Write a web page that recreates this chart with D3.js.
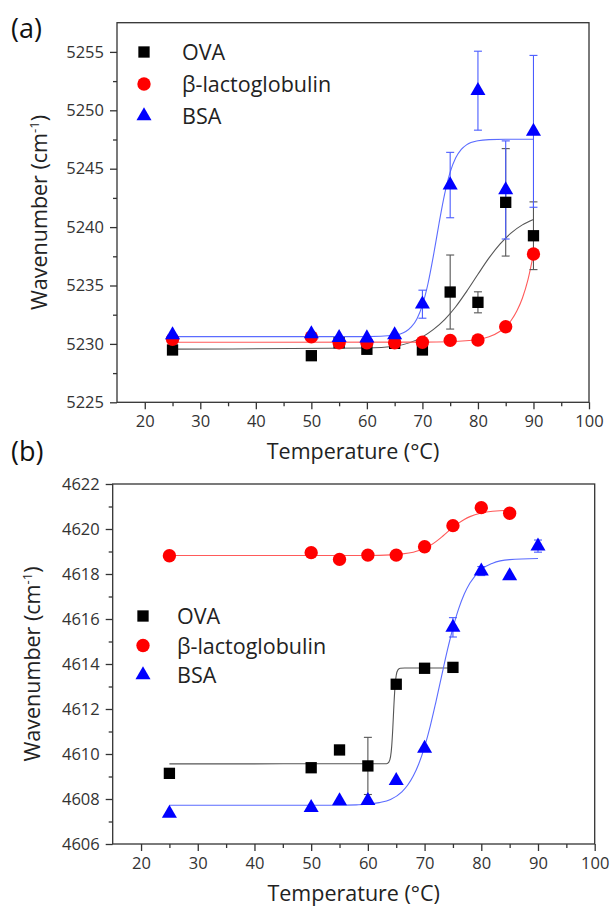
<!DOCTYPE html>
<html>
<head>
    <meta charset="UTF-8">
    <title>Wavenumber vs Temperature</title>
    <script src="https://d3js.org/d3.v7.min.js"></script>

    <style type="text/css">
      body{
        margin: 0;
        background-color: white;
      }
      svg{
        display: block;
        font-family: "Open Sans", sans-serif;
      }
    </style>
</head>
<body>
    <svg id="chart"></svg>

    <script>
        // measured temperatures (°C)
        const temps = [25, 50, 55, 60, 65, 70, 75, 80, 85, 90];

        // panel (a)
        const ovaA = [5229.48, 5228.99, 5230.1, 5229.54, 5230.05, 5229.48, 5234.44, 5233.56, 5242.12, 5239.26];
        const ovaAErr = [0, 0, 0, 0, 0, 0, 3.17, 0.9, 4.6, 2.9];
        const blgA = [5230.39, 5230.6, 5230.1, 5230.1, 5230.1, 5230.14, 5230.3, 5230.33, 5231.47, 5237.7];
        const blgAErr = [0, 0, 0, 0, 0, 0, 0, 0, 0, 0];
        const bsaA = [5230.76, 5230.85, 5230.53, 5230.5, 5230.76, 5233.4, 5243.6, 5251.68, 5243.18, 5248.2];
        const bsaAErr = [0, 0, 0, 0, 0, 1.2, 2.8, 3.38, 4.2, 6.5];

        // fitted curves of panel (a)
        const ovaAFitT = [25, 60, 65, 70, 72, 74, 76, 78, 80, 82, 84, 86, 88, 90];
        const ovaAFit = [5229.55, 5229.65, 5229.8, 5230.6, 5231.24, 5232.08, 5233.18, 5234.52, 5235.96, 5237.36, 5238.56, 5239.51, 5240.19, 5240.66];
        const blgAFitT = [25, 70, 75, 80, 82, 84, 85, 86, 87, 88, 89, 90];
        const blgAFit = [5230.14, 5230.15, 5230.19, 5230.38, 5230.61, 5231.08, 5231.47, 5232.02, 5232.81, 5233.91, 5235.48, 5237.7];
        const bsaAFitT = [25, 60, 65, 66, 67, 68, 69, 70, 71, 72, 73, 74, 75, 76, 77, 78, 80, 82, 85, 90];
        const bsaAFit = [5230.62, 5230.62, 5230.74, 5230.85, 5231.06, 5231.45, 5232.14, 5233.32, 5235.15, 5237.6, 5240.33, 5242.82, 5244.7, 5245.93, 5246.65, 5247.06, 5247.39, 5247.49, 5247.52, 5247.52];

        // panel (b)
        const ovaBT = [25, 50, 55, 60, 65, 70, 75];
        const ovaB = [4609.14, 4609.39, 4610.18, 4609.47, 4613.1, 4613.81, 4613.85];
        const ovaBErr = [0, 0, 0, 1.27, 0, 0, 0];
        const blgBT = [25, 50, 55, 60, 65, 70, 75, 80, 85];
        const blgB = [4618.81, 4618.95, 4618.65, 4618.84, 4618.84, 4619.21, 4620.15, 4620.95, 4620.7];
        const blgBErr = [0, 0, 0, 0, 0, 0, 0, 0, 0];
        const bsaB = [4607.36, 4607.61, 4607.91, 4607.93, 4608.81, 4610.25, 4615.63, 4618.13, 4617.91, 4619.24];
        const bsaBErr = [0, 0, 0, 0, 0, 0, 0.43, 0.2, 0, 0.27];

        // fitted curves of panel (b)
        const ovaBFitT = [25, 63.3, 63.7, 64.0, 64.2, 64.4, 64.6, 64.8, 65.0, 65.3, 65.7, 66.5, 75];
        const ovaBFit = [4609.56, 4609.57, 4609.64, 4609.88, 4610.34, 4611.17, 4612.21, 4613.04, 4613.5, 4613.74, 4613.81, 4613.82, 4613.82];
        const blgBFitT = [25, 60, 64, 66, 68, 70, 71, 72, 73, 74, 75, 76, 77, 78, 80, 82, 85];
        const blgBFit = [4618.82, 4618.82, 4618.85, 4618.89, 4618.97, 4619.14, 4619.27, 4619.44, 4619.64, 4619.86, 4620.07, 4620.26, 4620.42, 4620.55, 4620.71, 4620.79, 4620.83];
        const bsaBFitT = [25, 55, 58, 60, 62, 64, 66, 67, 68, 69, 70, 71, 72, 73, 74, 75, 76, 77, 78, 80, 82, 85, 90];
        const bsaBFit = [4607.72, 4607.72, 4607.74, 4607.77, 4607.84, 4607.98, 4608.32, 4608.61, 4609.02, 4609.58, 4610.32, 4611.24, 4612.32, 4613.46, 4614.59, 4615.6, 4616.45, 4617.11, 4617.6, 4618.2, 4618.48, 4618.64, 4618.69];

        // ticks
        const xTicks = [20, 30, 40, 50, 60, 70, 80, 90, 100];
        const xMinor = [25, 35, 45, 55, 65, 75, 85, 95];
        const yTicksA = [5225, 5230, 5235, 5240, 5245, 5250, 5255];
        const yMinorA = [5227.5, 5232.5, 5237.5, 5242.5, 5247.5, 5252.5];
        const yTicksB = [4606, 4608, 4610, 4612, 4614, 4616, 4618, 4620, 4622];
        const yMinorB = [4607, 4609, 4611, 4613, 4615, 4617, 4619, 4621];

        const seriesNames = ["OVA", "\u03B2-lactoglobulin", "BSA"];

        const width = 612;
        const height = 909;
        const axisColor = "#333";

        const svg = d3.select("#chart")
          .attr("width", width)
          .attr("height", height);

        const symbols = [d3.symbolSquare, d3.symbolCircle, d3.symbolTriangle];
        const symSizes = [128, 140, 98];
        const fills = ["#000000", "#ff0000", "#0000ff"];
        const lineColors = ["#555555", "#ff5a5a", "#5b6cff"];
        const errColors = ["#555555", "#ff5a5a", "#4a5cff"];

        function drawPanel(p){
          const x = d3.scaleLinear().domain([15, 100]).range([p.left, p.right]);
          const y = d3.scaleLinear().domain(p.yDomain).range([p.bottom, p.top]);
          const g = svg.append("g");

          // frame
          g.append("rect")
            .attr("x", p.left).attr("y", p.top)
            .attr("width", p.right - p.left).attr("height", p.bottom - p.top)
            .attr("fill", "none").attr("stroke", axisColor).attr("stroke-width", 1.3);

          const styleAxis = (sel) => {
            sel.select(".domain").remove();
            sel.selectAll("line").attr("stroke", axisColor).attr("stroke-width", 1.3);
            sel.selectAll("text").attr("fill", "#333").style("font-size", "16.5px")
              .style("font-family", "'Open Sans', sans-serif");
          };

          g.append("g").attr("transform", `translate(0, ${p.bottom})`)
            .call(d3.axisBottom(x).tickValues(xTicks).tickSize(7).tickPadding(6).tickFormat(d3.format("d")))
            .call(styleAxis);
          g.append("g").attr("transform", `translate(0, ${p.bottom})`)
            .call(d3.axisBottom(x).tickValues(xMinor).tickSize(4).tickFormat(""))
            .call(styleAxis);
          g.append("g").attr("transform", `translate(${p.left}, 0)`)
            .call(d3.axisLeft(y).tickValues(p.yTicks).tickSize(7).tickPadding(6).tickFormat(d3.format("d")))
            .call(styleAxis);
          g.append("g").attr("transform", `translate(${p.left}, 0)`)
            .call(d3.axisLeft(y).tickValues(p.yMinor).tickSize(4).tickFormat(""))
            .call(styleAxis);

          // fitted curves
          const line = d3.line().curve(d3.curveMonotoneX)
            .x((d)=>x(d[0])).y((d)=>y(d[1]));
          p.fits.forEach((f, i)=>{
            g.append("path")
              .datum(f.t.map((t, j)=>[t, f.v[j]]))
              .attr("d", line)
              .attr("fill", "none")
              .attr("stroke", lineColors[i])
              .attr("stroke-width", 1.1);
          });

          // error bars and markers
          p.series.forEach((s, i)=>{
            const pts = s.t.map((t, j)=>({t:t, v:s.v[j], e:s.e[j]})).filter((d)=>d.e > 0);
            const eb = g.append("g").attr("stroke", errColors[i]).attr("stroke-width", 1.1);
            eb.selectAll(".bar").data(pts).enter().append("line")
              .attr("x1", (d)=>x(d.t)).attr("x2", (d)=>x(d.t))
              .attr("y1", (d)=>y(d.v - d.e)).attr("y2", (d)=>y(d.v + d.e));
            eb.selectAll(".capTop").data(pts).enter().append("line")
              .attr("x1", (d)=>x(d.t) - 4).attr("x2", (d)=>x(d.t) + 4)
              .attr("y1", (d)=>y(d.v + d.e)).attr("y2", (d)=>y(d.v + d.e));
            eb.selectAll(".capBot").data(pts).enter().append("line")
              .attr("x1", (d)=>x(d.t) - 4).attr("x2", (d)=>x(d.t) + 4)
              .attr("y1", (d)=>y(d.v - d.e)).attr("y2", (d)=>y(d.v - d.e));
          });
          p.series.forEach((s, i)=>{
            g.append("g").selectAll("path")
              .data(s.t.map((t, j)=>[t, s.v[j]]))
              .enter().append("path")
              .attr("transform", (d)=>`translate(${x(d[0])}, ${y(d[1])})`)
              .attr("d", d3.symbol().type(symbols[i]).size(symSizes[i]))
              .attr("fill", fills[i]);
          });

          // legend
          seriesNames.forEach((name, i)=>{
            const ly = p.legendY + i * p.legendGap;
            g.append("path")
              .attr("transform", `translate(${p.legendX}, ${ly})`)
              .attr("d", d3.symbol().type(symbols[i]).size(symSizes[i]))
              .attr("fill", fills[i]);
            g.append("text")
              .attr("x", p.legendX + p.legendText).attr("y", ly + 8)
              .attr("fill", "#222").style("font-size", "21.5px")
              .text(name);
          });

          // axis titles
          g.append("text")
            .attr("text-anchor", "middle")
            .attr("x", (p.left + p.right) / 2).attr("y", p.bottom + 57)
            .attr("fill", "#222").style("font-size", "21.5px")
            .text("Temperature (\u00B0C)");

          const yt = g.append("text")
            .attr("text-anchor", "middle")
            .attr("transform", `translate(${p.yTitleX}, ${(p.top + p.bottom) / 2}) rotate(-90)`)
            .attr("fill", "#222").style("font-size", "21.5px");
          yt.append("tspan").text("Wavenumber (cm");
          yt.append("tspan").attr("dy", -8).style("font-size", "13px").text("-1");
          yt.append("tspan").attr("dy", 8).text(")");

          g.append("text")
            .attr("x", 11).attr("y", p.labelY)
            .attr("fill", "#111").style("font-size", "27px")
            .text(p.label);
        }

        drawPanel({
          label: "(a)", labelY: 38,
          left: 117, right: 589, top: 22.7, bottom: 402.3,
          yDomain: [5225, 5257.5], yTicks: yTicksA, yMinor: yMinorA,
          yTitleX: 47,
          legendX: 144, legendY: 52, legendGap: 32, legendText: 38,
          series: [
            {t: temps, v: ovaA, e: ovaAErr},
            {t: temps, v: blgA, e: blgAErr},
            {t: temps, v: bsaA, e: bsaAErr}
          ],
          fits: [
            {t: ovaAFitT, v: ovaAFit},
            {t: blgAFitT, v: blgAFit},
            {t: bsaAFitT, v: bsaAFit}
          ]
        });

        drawPanel({
          label: "(b)", labelY: 461,
          left: 112.7, right: 594.7, top: 484, bottom: 844,
          yDomain: [4606, 4622], yTicks: yTicksB, yMinor: yMinorB,
          yTitleX: 40,
          legendX: 143, legendY: 616, legendGap: 29.5, legendText: 34,
          series: [
            {t: ovaBT, v: ovaB, e: ovaBErr},
            {t: blgBT, v: blgB, e: blgBErr},
            {t: temps, v: bsaB, e: bsaBErr}
          ],
          fits: [
            {t: ovaBFitT, v: ovaBFit},
            {t: blgBFitT, v: blgBFit},
            {t: bsaBFitT, v: bsaBFit}
          ]
        });
    </script>
</body>
</html>
